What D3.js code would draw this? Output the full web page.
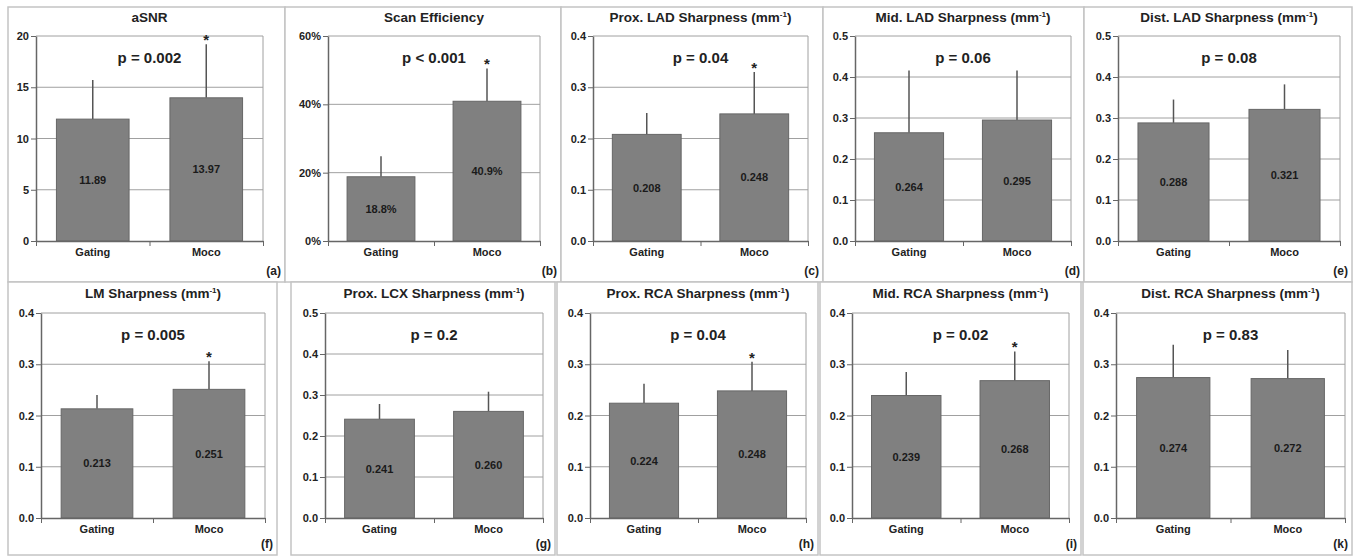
<!DOCTYPE html>
<html>
<head>
<meta charset="utf-8">
<script src="https://cdn.jsdelivr.net/npm/d3@7"></script>
<style>
  body { margin: 0; background: #fff; }
  text { font-family: "Liberation Sans", Arial, sans-serif; font-weight: bold; fill: #222; }
</style>
</head>
<body>
<div id="my_dataviz"></div>
<script>
// chart data
const categories = ["Gating", "Moco"];
const titles = ["aSNR", "Scan Efficiency", "Prox. LAD Sharpness", "Mid. LAD Sharpness", "Dist. LAD Sharpness",
                "LM Sharpness", "Prox. LCX Sharpness", "Prox. RCA Sharpness", "Mid. RCA Sharpness", "Dist. RCA Sharpness"];
const hasUnit = [false, false, true, true, true, true, true, true, true, true];
const letters = ["(a)", "(b)", "(c)", "(d)", "(e)", "(f)", "(g)", "(h)", "(i)", "(k)"];
const pTexts = ["p = 0.002", "p < 0.001", "p = 0.04", "p = 0.06", "p = 0.08",
                "p = 0.005", "p = 0.2", "p = 0.04", "p = 0.02", "p = 0.83"];
const yMax = [20, 0.6, 0.4, 0.5, 0.5, 0.4, 0.5, 0.4, 0.4, 0.4];
const yStep = [5, 0.2, 0.1, 0.1, 0.1, 0.1, 0.1, 0.1, 0.1, 0.1];
const tickFormats = ["d", ".0%", ".1f", ".1f", ".1f", ".1f", ".1f", ".1f", ".1f", ".1f"];
const labelFormats = [".2f", ".1%", ".3f", ".3f", ".3f", ".3f", ".3f", ".3f", ".3f", ".3f"];
const gatingMean = [11.89, 0.188, 0.208, 0.264, 0.288, 0.213, 0.241, 0.224, 0.239, 0.274];
const gatingErrTop = [15.7, 0.248, 0.250, 0.416, 0.345, 0.240, 0.278, 0.262, 0.285, 0.338];
const mocoMean = [13.97, 0.409, 0.248, 0.295, 0.321, 0.251, 0.260, 0.248, 0.268, 0.272];
const mocoErrTop = [19.2, 0.505, 0.330, 0.416, 0.382, 0.306, 0.308, 0.305, 0.325, 0.328];
const significant = [true, true, true, false, false, true, false, true, true, false];

// panel boxes and plot areas (x extents), two rows
const rows = [
  {py: 7, ph: 275, top: 36, bottom: 241, titleY: 22, catY: 256, letterY: 275},
  {py: 282, ph: 273, top: 313, bottom: 518, titleY: 298, catY: 533, letterY: 548}
];
const layout = [
  {px: 8, pw: 277, l: 36, r: 263},
  {px: 285, pw: 276, l: 328, r: 540},
  {px: 561, pw: 262, l: 593, r: 808},
  {px: 823, pw: 261, l: 855, r: 1071},
  {px: 1084, pw: 268, l: 1118, r: 1340},
  {px: 8, pw: 269, l: 41, r: 265},
  {px: 291, pw: 264, l: 325, r: 543},
  {px: 557, pw: 261, l: 590, r: 806},
  {px: 820, pw: 261, l: 852, r: 1069},
  {px: 1083, pw: 269, l: 1116, r: 1345}
];

const svg = d3.select("#my_dataviz")
  .append("svg")
  .attr("width", 1360)
  .attr("height", 560);

titles.forEach(function(title, i) {
  const row = rows[i < 5 ? 0 : 1];
  const lay = layout[i];
  const g = svg.append("g");

  // panel frame
  g.append("rect")
    .attr("x", lay.px).attr("y", row.py)
    .attr("width", lay.pw).attr("height", row.ph)
    .attr("fill", "#fff")
    .attr("stroke", "#c4c4c4")
    .attr("stroke-width", 1.5);

  const x = d3.scaleBand()
    .domain(categories)
    .range([lay.l, lay.r])
    .paddingInner(0.36)
    .paddingOuter(0.18);

  const y = d3.scaleLinear()
    .domain([0, yMax[i]])
    .range([row.bottom, row.top]);

  const ticks = d3.range(0, yMax[i] + yStep[i] / 2, yStep[i]);

  // gridlines
  g.append("g")
    .selectAll("line")
    .data(ticks.slice(1))
    .join("line")
    .attr("x1", lay.l).attr("x2", lay.r)
    .attr("y1", d => y(d)).attr("y2", d => y(d))
    .attr("stroke", "#a0a0a0")
    .attr("stroke-width", 1);

  // right border of plot
  g.append("line")
    .attr("x1", lay.r).attr("x2", lay.r)
    .attr("y1", row.top).attr("y2", row.bottom)
    .attr("stroke", "#a0a0a0");

  const means = [gatingMean[i], mocoMean[i]];
  const errs = [gatingErrTop[i], mocoErrTop[i]];

  // error bars (upper only)
  g.append("g")
    .selectAll("line")
    .data(categories)
    .join("line")
    .attr("x1", d => x(d) + x.bandwidth() / 2)
    .attr("x2", d => x(d) + x.bandwidth() / 2)
    .attr("y1", (d, j) => y(means[j]))
    .attr("y2", (d, j) => y(errs[j]))
    .attr("stroke", "#555")
    .attr("stroke-width", 1.5);

  // bars
  g.append("g")
    .selectAll("rect")
    .data(categories)
    .join("rect")
    .attr("x", d => x(d))
    .attr("width", x.bandwidth())
    .attr("y", (d, j) => y(means[j]))
    .attr("height", (d, j) => y(0) - y(means[j]))
    .attr("fill", "#808080")
    .attr("stroke", "#666")
    .attr("stroke-width", 1);

  // value labels in the middle of each bar
  g.append("g")
    .selectAll("text")
    .data(categories)
    .join("text")
    .attr("x", d => x(d) + x.bandwidth() / 2)
    .attr("y", (d, j) => (y(means[j]) + y(0)) / 2 + 4)
    .attr("text-anchor", "middle")
    .style("font-size", "11px")
    .style("fill", "#1a1a1a")
    .text((d, j) => d3.format(labelFormats[i])(means[j]));

  // y axis
  const yAxis = g.append("g")
    .attr("transform", `translate(${lay.l},0)`)
    .call(d3.axisLeft(y).tickValues(ticks).tickSize(5).tickSizeOuter(0)
      .tickFormat(d3.format(tickFormats[i])));
  yAxis.select(".domain").attr("stroke", "#666").attr("stroke-width", 1.5);
  yAxis.selectAll(".tick line").attr("stroke", "#666");
  yAxis.selectAll("text")
    .attr("x", -7)
    .style("font-size", "11px")
    .style("font-family", "'Liberation Sans', Arial, sans-serif")
    .style("font-weight", "bold")
    .attr("fill", "#222");

  // x axis line with ticks at category boundaries
  const xb = d3.scaleLinear().domain([0, 2]).range([lay.l, lay.r]);
  const xAxis = g.append("g")
    .attr("transform", `translate(0,${row.bottom})`)
    .call(d3.axisBottom(xb).tickValues([0, 1, 2]).tickSize(5).tickSizeOuter(0).tickFormat(""));
  xAxis.select(".domain").attr("stroke", "#666").attr("stroke-width", 1.5);
  xAxis.selectAll(".tick line").attr("stroke", "#666");

  // category labels
  g.append("g")
    .selectAll("text")
    .data(categories)
    .join("text")
    .attr("x", d => x(d) + x.bandwidth() / 2)
    .attr("y", row.catY)
    .attr("text-anchor", "middle")
    .style("font-size", "11px")
    .text(d => d);

  // title
  const cx = (lay.l + lay.r) / 2;
  const t = g.append("text")
    .attr("x", cx)
    .attr("y", row.titleY)
    .attr("text-anchor", "middle")
    .style("font-size", "13.5px")
    .text(title);
  if (hasUnit[i]) {
    t.append("tspan").text(" (mm");
    t.append("tspan").attr("dy", -5).style("font-size", "8px").text("-1");
    t.append("tspan").attr("dy", 5).text(")");
  }

  // p value
  g.append("text")
    .attr("x", cx)
    .attr("y", row.top + 27)
    .attr("text-anchor", "middle")
    .style("font-size", "15px")
    .text(pTexts[i]);

  // asterisk for significant moco
  if (significant[i]) {
    g.append("text")
      .attr("x", x("Moco") + x.bandwidth() / 2)
      .attr("y", y(mocoErrTop[i]) + 1)
      .attr("text-anchor", "middle")
      .style("font-size", "15px")
      .text("*");
  }

  // panel letter
  g.append("text")
    .attr("x", lay.px + lay.pw - 4)
    .attr("y", row.letterY)
    .attr("text-anchor", "end")
    .style("font-size", "12px")
    .text(letters[i]);
});
</script>
</body>
</html>
